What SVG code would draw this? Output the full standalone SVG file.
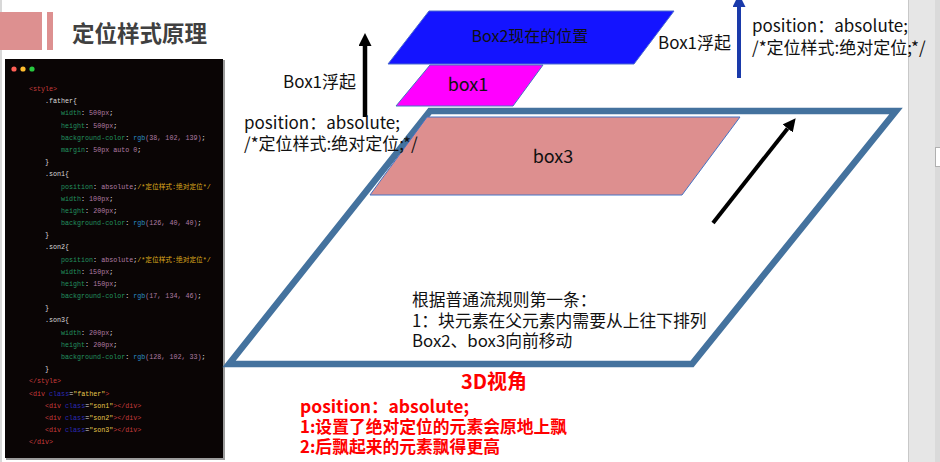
<svg xmlns="http://www.w3.org/2000/svg" width="940" height="462" viewBox="0 0 940 462">
<defs>
<style>
.cjk{font-family:"Noto Sans CJK SC","Noto Sans",sans-serif;}
.lbl{font-family:"Noto Sans CJK SC","Noto Sans",sans-serif;font-size:17px;fill:#111;}
.red{font-family:"Noto Sans CJK SC","Noto Sans",sans-serif;font-weight:bold;fill:#ff0000;}
.code{font-family:"Liberation Mono","Noto Sans CJK SC",monospace;font-size:6.7px;}
.tg{fill:#c83c3c}.sl{fill:#d8d8d8}.pr{fill:#22925f}.vl{fill:#b07ca4}.fn{fill:#2b8cc4}.cm{fill:#dca81c}.at{fill:#2a2ab4}.st{fill:#e6c84c}.wh{fill:#e0e0e0}
</style>
<marker id="ahBlack" markerUnits="userSpaceOnUse" markerWidth="13" markerHeight="13" refX="0" refY="6.5" orient="auto" viewBox="0 0 13 13"><path d="M0,0 L13,6.5 L0,13 z" fill="#000"/></marker>
<marker id="ahBlue" markerUnits="userSpaceOnUse" markerWidth="13" markerHeight="13" refX="0" refY="6.5" orient="auto" viewBox="0 0 13 13"><path d="M0,0 L13,6.5 L0,13 z" fill="#1a3aaa"/></marker>
</defs>
<rect x="0" y="0" width="940" height="462" fill="#ffffff"/>
<g id="side-panel">
<rect x="908" y="0" width="32" height="462" fill="#e6e6e6"/>
<line x1="908.5" y1="0" x2="908.5" y2="462" stroke="#c8c8c8" stroke-width="1"/>
<rect x="935" y="0" width="5" height="462" fill="#dadada"/>
<rect x="935.5" y="147.5" width="6" height="19" fill="#ffffff" stroke="#b0b0b0" stroke-width="1"/>
</g>
<line x1="1" y1="0" x2="1" y2="462" stroke="#d8d8d8" stroke-width="2"/>
<g id="title">
<rect x="0" y="12" width="42" height="38" fill="#dd9090"/>
<rect x="47" y="12" width="6" height="38" fill="#dd9090"/>
<text x="72" y="42" class="cjk" font-size="22.5" font-weight="bold" fill="#404040">定位样式原理</text>
</g>
<g id="code-block">
<rect x="6" y="60" width="219" height="400" fill="#3a3a3a" opacity="0.5"/>
<rect x="5" y="59" width="218" height="399" fill="#0a0505"/>
<circle cx="14" cy="69" r="2.6" fill="#ff5f56"/>
<circle cx="23" cy="69" r="2.6" fill="#ffbd2e"/>
<circle cx="32" cy="69" r="2.6" fill="#27c93f"/>
<g class="code">
<text x="29" y="91"><tspan class="tg">&lt;style&gt;</tspan></text>
<text x="45" y="103"><tspan class="sl">.father{</tspan></text>
<text x="61" y="115"><tspan class="pr">width</tspan><tspan class="wh">: </tspan><tspan class="vl">500px</tspan><tspan class="wh">;</tspan></text>
<text x="61" y="127.5"><tspan class="pr">height</tspan><tspan class="wh">: </tspan><tspan class="vl">500px</tspan><tspan class="wh">;</tspan></text>
<text x="61" y="139.5"><tspan class="pr">background-color</tspan><tspan class="wh">: </tspan><tspan class="fn">rgb</tspan><tspan class="vl">(38, 102, 139)</tspan><tspan class="wh">;</tspan></text>
<text x="61" y="152"><tspan class="pr">margin</tspan><tspan class="wh">: </tspan><tspan class="vl">50px auto 0</tspan><tspan class="wh">;</tspan></text>
<text x="45" y="164"><tspan class="sl">}</tspan></text>
<text x="45" y="176"><tspan class="sl">.son1{</tspan></text>
<text x="61" y="188.5"><tspan class="pr">position</tspan><tspan class="wh">: </tspan><tspan class="vl">absolute</tspan><tspan class="wh">;</tspan><tspan class="cm">/*定位样式:绝对定位*/</tspan></text>
<text x="61" y="200.5"><tspan class="pr">width</tspan><tspan class="wh">: </tspan><tspan class="vl">100px</tspan><tspan class="wh">;</tspan></text>
<text x="61" y="212.5"><tspan class="pr">height</tspan><tspan class="wh">: </tspan><tspan class="vl">200px</tspan><tspan class="wh">;</tspan></text>
<text x="61" y="225"><tspan class="pr">background-color</tspan><tspan class="wh">: </tspan><tspan class="fn">rgb</tspan><tspan class="vl">(126, 40, 40)</tspan><tspan class="wh">;</tspan></text>
<text x="45" y="237"><tspan class="sl">}</tspan></text>
<text x="45" y="249"><tspan class="sl">.son2{</tspan></text>
<text x="61" y="261.5"><tspan class="pr">position</tspan><tspan class="wh">: </tspan><tspan class="vl">absolute</tspan><tspan class="wh">;</tspan><tspan class="cm">/*定位样式:绝对定位*/</tspan></text>
<text x="61" y="273.5"><tspan class="pr">width</tspan><tspan class="wh">: </tspan><tspan class="vl">150px</tspan><tspan class="wh">;</tspan></text>
<text x="61" y="286"><tspan class="pr">height</tspan><tspan class="wh">: </tspan><tspan class="vl">150px</tspan><tspan class="wh">;</tspan></text>
<text x="61" y="298"><tspan class="pr">background-color</tspan><tspan class="wh">: </tspan><tspan class="fn">rgb</tspan><tspan class="vl">(17, 134, 46)</tspan><tspan class="wh">;</tspan></text>
<text x="45" y="310"><tspan class="sl">}</tspan></text>
<text x="45" y="322"><tspan class="sl">.son3{</tspan></text>
<text x="61" y="334.5"><tspan class="pr">width</tspan><tspan class="wh">: </tspan><tspan class="vl">200px</tspan><tspan class="wh">;</tspan></text>
<text x="61" y="346.5"><tspan class="pr">height</tspan><tspan class="wh">: </tspan><tspan class="vl">200px</tspan><tspan class="wh">;</tspan></text>
<text x="61" y="359"><tspan class="pr">background-color</tspan><tspan class="wh">: </tspan><tspan class="fn">rgb</tspan><tspan class="vl">(128, 102, 33)</tspan><tspan class="wh">;</tspan></text>
<text x="45" y="371"><tspan class="sl">}</tspan></text>
<text x="29" y="383"><tspan class="tg">&lt;/style&gt;</tspan></text>
<text x="29" y="395.5"><tspan class="tg">&lt;div </tspan><tspan class="at">class</tspan><tspan class="wh">=</tspan><tspan class="st">"father"</tspan><tspan class="tg">&gt;</tspan></text>
<text x="45" y="407.5"><tspan class="tg">&lt;div </tspan><tspan class="at">class</tspan><tspan class="wh">=</tspan><tspan class="st">"son1"</tspan><tspan class="tg">&gt;&lt;/div&gt;</tspan></text>
<text x="45" y="420"><tspan class="tg">&lt;div </tspan><tspan class="at">class</tspan><tspan class="wh">=</tspan><tspan class="st">"son2"</tspan><tspan class="tg">&gt;&lt;/div&gt;</tspan></text>
<text x="45" y="432"><tspan class="tg">&lt;div </tspan><tspan class="at">class</tspan><tspan class="wh">=</tspan><tspan class="st">"son3"</tspan><tspan class="tg">&gt;&lt;/div&gt;</tspan></text>
<text x="29" y="444"><tspan class="tg">&lt;/div&gt;</tspan></text>
</g>
</g>
<g id="father">
<polygon points="430,111 896,111 692,364 229,364" fill="#ffffff" stroke="#44729e" stroke-width="6.5" stroke-linejoin="miter"/>
<text x="412" y="306" class="cjk" font-size="16.8" fill="#111">根据普通流规则第一条：</text>
<text x="412" y="327" class="cjk" font-size="16.8" fill="#111">1：块元素在父元素内需要从上往下排列</text>
<text x="412" y="347" class="cjk" font-size="16.8" fill="#111">Box2、box3向前移动</text>
</g>
<g id="box3">
<polygon points="427,117 740,117 682,195 370,195" fill="#dd8f8f" stroke="#4472c4" stroke-width="1"/>
<text x="553" y="163" class="cjk" font-size="18" fill="#111" text-anchor="middle">box3</text>
</g>
<g id="box2">
<polygon points="429,11 674,11 634,64 388,64" fill="#1414ff" stroke="#4a6ad0" stroke-width="1"/>
<text x="530" y="42" class="cjk" font-size="16" fill="#111" text-anchor="middle">Box2现在的位置</text>
</g>
<g id="box1">
<polygon points="430,65 543,65 513,106 396,106" fill="#ff00ff" stroke="#4472c4" stroke-width="1"/>
<text x="468" y="91" class="cjk" font-size="18" fill="#111" text-anchor="middle">box1</text>
</g>
<g id="connectors">
<line x1="365" y1="117" x2="365" y2="46" stroke="#000" stroke-width="4.5" marker-end="url(#ahBlack)"/>
<line x1="739" y1="78" x2="739" y2="7" stroke="#1a3aaa" stroke-width="4" marker-end="url(#ahBlue)"/>
<line x1="713" y1="223" x2="787.6" y2="128.4" stroke="#000" stroke-width="4" marker-end="url(#ahBlack)"/>
</g>
<g id="left-labels">
<text x="283" y="88" class="lbl">Box1浮起</text>
<text x="244" y="129" class="lbl">position：absolute;</text>
<text x="244" y="150" class="lbl">/*定位样式:绝对定位;*/</text>
</g>
<g id="right-labels">
<text x="658" y="49" class="lbl">Box1浮起</text>
<text x="752" y="32" class="lbl">position：absolute;</text>
<text x="752" y="54" class="lbl">/*定位样式:绝对定位;*/</text>
</g>
<g id="notes">
<text x="494" y="389" class="red" font-size="20" text-anchor="middle">3D视角</text>
<text x="300" y="413" class="red" font-size="17.5">position：absolute;</text>
<text x="300" y="433" class="red" font-size="16.8">1:设置了绝对定位的元素会原地上飘</text>
<text x="300" y="453" class="red" font-size="16.8">2:后飘起来的元素飘得更高</text>
</g>
</svg>
